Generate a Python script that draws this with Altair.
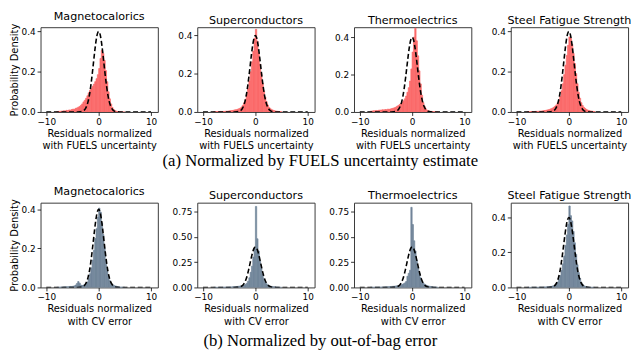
import altair as alt
import pandas as pd

# ---------------- data ----------------
BIN_START = -8.0
BIN_WIDTH = 0.25
X_DOMAIN = [-11.1, 11.3]
X_TICKS = [-10, 0, 10]

titles = ["Magnetocalorics", "Superconductors", "Thermoelectrics", "Steel Fatigue Strength"]

# top row: normalized by FUELS uncertainty (red)
fuels_mag = [0.002, 0.003, 0.003, 0.004, 0.004, 0.006, 0.005, 0.008,
             0.007, 0.010, 0.009, 0.012, 0.014, 0.013, 0.018, 0.020,
             0.024, 0.027, 0.033, 0.040, 0.050, 0.058, 0.068, 0.080,
             0.095, 0.108, 0.118, 0.128, 0.138, 0.150, 0.165, 0.185,
             0.215, 0.265, 0.305, 0.290, 0.255, 0.205, 0.150, 0.100,
             0.065, 0.040, 0.022, 0.012, 0.006, 0.004, 0.002, 0.001,
             0.001, 0.0, 0.0, 0.0]
fuels_sup = [0.001, 0.001, 0.002, 0.002, 0.002, 0.003, 0.002, 0.003,
             0.003, 0.004, 0.004, 0.005, 0.006, 0.007, 0.008, 0.009,
             0.011, 0.012, 0.014, 0.017, 0.020, 0.026, 0.035, 0.048,
             0.066, 0.090, 0.122, 0.162, 0.210, 0.262, 0.318, 0.385,
             0.432, 0.370, 0.310, 0.250, 0.200, 0.150, 0.110, 0.078,
             0.054, 0.036, 0.024, 0.017, 0.012, 0.009, 0.007, 0.005,
             0.004, 0.003, 0.002, 0.002]
fuels_the = [0.004, 0.005, 0.006, 0.006, 0.008, 0.007, 0.009, 0.010,
             0.010, 0.012, 0.011, 0.013, 0.012, 0.015, 0.014, 0.016,
             0.018, 0.020, 0.022, 0.025, 0.030, 0.034, 0.040, 0.045,
             0.052, 0.060, 0.070, 0.085, 0.105, 0.130, 0.165, 0.230,
             0.320, 0.400, 0.448, 0.380, 0.300, 0.220, 0.150, 0.090,
             0.050, 0.030, 0.016, 0.009, 0.006, 0.004, 0.003, 0.002,
             0.001, 0.001, 0.0, 0.0]
fuels_ste = [0.001, 0.001, 0.001, 0.002, 0.002, 0.002, 0.003, 0.003,
             0.003, 0.004, 0.004, 0.005, 0.006, 0.007, 0.008, 0.010,
             0.011, 0.013, 0.016, 0.019, 0.023, 0.028, 0.035, 0.045,
             0.058, 0.078, 0.105, 0.140, 0.185, 0.232, 0.280, 0.330,
             0.372, 0.365, 0.335, 0.290, 0.240, 0.190, 0.140, 0.098,
             0.068, 0.046, 0.032, 0.023, 0.017, 0.012, 0.009, 0.007,
             0.005, 0.004, 0.003, 0.002]

# bottom row: normalized by out-of-bag (CV) error (slate)
cv_mag = [0.001, 0.001, 0.002, 0.002, 0.002, 0.003, 0.003, 0.003,
          0.004, 0.004, 0.005, 0.005, 0.006, 0.008, 0.012, 0.020,
          0.030, 0.022, 0.012, 0.010, 0.012, 0.015, 0.020, 0.028,
          0.045, 0.070, 0.100, 0.140, 0.190, 0.250, 0.300, 0.360,
          0.405, 0.385, 0.330, 0.270, 0.200, 0.140, 0.090, 0.058,
          0.035, 0.022, 0.015, 0.011, 0.008, 0.006, 0.004, 0.003,
          0.002, 0.002, 0.001, 0.001]
cv_sup = [0.001, 0.001, 0.001, 0.001, 0.002, 0.002, 0.002, 0.003,
          0.003, 0.003, 0.004, 0.004, 0.005, 0.005, 0.006, 0.007,
          0.008, 0.009, 0.010, 0.012, 0.014, 0.016, 0.019, 0.023,
          0.030, 0.042, 0.062, 0.095, 0.150, 0.210, 0.300, 0.380,
          0.800, 0.480, 0.360, 0.260, 0.190, 0.130, 0.085, 0.055,
          0.036, 0.025, 0.018, 0.013, 0.010, 0.008, 0.006, 0.005,
          0.004, 0.003, 0.002, 0.002]
cv_the = [0.002, 0.002, 0.002, 0.003, 0.003, 0.003, 0.004, 0.004,
          0.004, 0.005, 0.005, 0.006, 0.006, 0.007, 0.008, 0.009,
          0.010, 0.011, 0.012, 0.014, 0.016, 0.018, 0.021, 0.025,
          0.030, 0.036, 0.045, 0.058, 0.110, 0.140, 0.170, 0.790,
          0.620, 0.460, 0.360, 0.270, 0.200, 0.140, 0.095, 0.065,
          0.045, 0.032, 0.024, 0.018, 0.014, 0.011, 0.009, 0.007,
          0.005, 0.004, 0.003, 0.002]
cv_ste = [0.0, 0.001, 0.0, 0.001, 0.001, 0.001, 0.001, 0.001,
          0.001, 0.002, 0.002, 0.002, 0.002, 0.003, 0.003, 0.004,
          0.004, 0.005, 0.006, 0.008, 0.010, 0.014, 0.020, 0.030,
          0.045, 0.068, 0.098, 0.135, 0.180, 0.240, 0.300, 0.360,
          0.465, 0.410, 0.380, 0.320, 0.255, 0.190, 0.130, 0.085,
          0.052, 0.030, 0.017, 0.010, 0.006, 0.004, 0.003, 0.002,
          0.001, 0.001, 0.001, 0.0]

# dashed reference curve
curve_x = [-10, -4, -3.5, -3, -2.75, -2.5, -2.25, -2, -1.75, -1.5, -1.25, -1, -0.75, -0.5, -0.25,
           0, 0.25, 0.5, 0.75, 1, 1.25, 1.5, 1.75, 2, 2.25, 2.5, 2.75, 3, 3.5, 4, 10]
curve_y = [0.0, 0.0001, 0.0009, 0.0044, 0.009, 0.018, 0.032, 0.054, 0.086, 0.130, 0.183, 0.242, 0.301, 0.352, 0.387,
           0.399, 0.387, 0.352, 0.301, 0.242, 0.183, 0.130, 0.086, 0.054, 0.032, 0.018, 0.009, 0.0044, 0.0009, 0.0001, 0.0]

top_ymax = [0.42, 0.443, 0.453, 0.42]
bot_ymax = [0.433, 0.837, 0.836, 0.484]
top_yticks = [[0, 0.2, 0.4]] * 4
bot_yticks = [[0, 0.2, 0.4], [0, 0.25, 0.5, 0.75], [0, 0.25, 0.5, 0.75], [0, 0.2, 0.4]]
bot_yfmt = [".1f", ".2f", ".2f", ".1f"]

RED = "#fb6a6a"
SLATE = "#72869a"
PW, PH = 119, 86

curve_df = pd.DataFrame({"x": curve_x, "y": curve_y})


def panel(name, heights, color, ymax, yticks, yfmt, xtitle, ytitle):
    x0 = [BIN_START + i * BIN_WIDTH for i in range(len(heights))]
    df = pd.DataFrame({
        "x0": x0,
        "x1": [v + BIN_WIDTH for v in x0],
        "h": heights,
        "b": [0.0] * len(heights),
    })
    xs = alt.Scale(domain=X_DOMAIN, nice=False, zero=False)
    ys = alt.Scale(domain=[0, ymax], nice=False)
    xa = alt.Axis(values=X_TICKS, format="d", title=xtitle)
    ya = alt.Axis(values=yticks, format=yfmt, title=ytitle)
    bars = alt.Chart(df).mark_rect(color=color, stroke=color, strokeWidth=0.7, clip=True).encode(
        x=alt.X("x0:Q", scale=xs, axis=xa),
        x2=alt.X2("x1"),
        y=alt.Y("h:Q", scale=ys, axis=ya),
        y2=alt.Y2("b"),
    )
    line = alt.Chart(curve_df).mark_line(
        color="black", strokeDash=[5, 2.7], strokeWidth=1.6, interpolate="monotone", clip=True
    ).encode(
        x=alt.X("x:Q", scale=xs, axis=xa),
        y=alt.Y("y:Q", scale=ys, axis=ya),
    )
    return alt.layer(bars, line).properties(width=PW, height=PH, title=name)


top_data = [fuels_mag, fuels_sup, fuels_the, fuels_ste]
bot_data = [cv_mag, cv_sup, cv_the, cv_ste]

top_panels = [
    panel(titles[i], top_data[i], RED, top_ymax[i], top_yticks[i], ".1f",
          ["Residuals normalized", "with FUELS uncertainty"],
          "Probability Density" if i == 0 else None)
    for i in range(4)
]
bot_panels = [
    panel(titles[i], bot_data[i], SLATE, bot_ymax[i], bot_yticks[i], bot_yfmt[i],
          ["Residuals normalized", "with CV error"],
          "Probability Density" if i == 0 else None)
    for i in range(4)
]

cap_style = dict(orient="bottom", anchor="middle", frame="bounds", font="Liberation Serif",
                 fontSize=16.9, fontWeight="normal", color="black")

row1 = alt.hconcat(*top_panels, spacing=40, bounds="flush").properties(
    title=alt.TitleParams("(a) Normalized by FUELS uncertainty estimate", offset=2, **cap_style)
)
row2 = alt.hconcat(*bot_panels, spacing=40, bounds="flush").properties(
    title=alt.TitleParams("(b) Normalized by out-of-bag error", offset=6, **cap_style)
)

chart = alt.vconcat(row1, row2, spacing=17).properties(
    padding={"left": 0, "top": 0, "right": 0, "bottom": 0}
).configure_view(
    stroke="#3a3a3a", strokeWidth=1
).configure_axis(
    grid=False, domain=False, tickColor="black", tickSize=3.5, tickWidth=0.8,
    labelFont="DejaVu Sans", labelFontSize=9, labelColor="black", labelPadding=2,
    labelFlush=False,
    titleFont="DejaVu Sans", titleFontSize=10, titleFontWeight="normal", titleColor="black",
    titlePadding=2, titleLineHeight=13,
).configure_title(
    font="DejaVu Sans", fontSize=11.3, fontWeight="normal", color="black", offset=1,
    anchor="middle", frame="group"
)

chart.save("out.html", embed_options={"renderer": "svg", "actions": False})
